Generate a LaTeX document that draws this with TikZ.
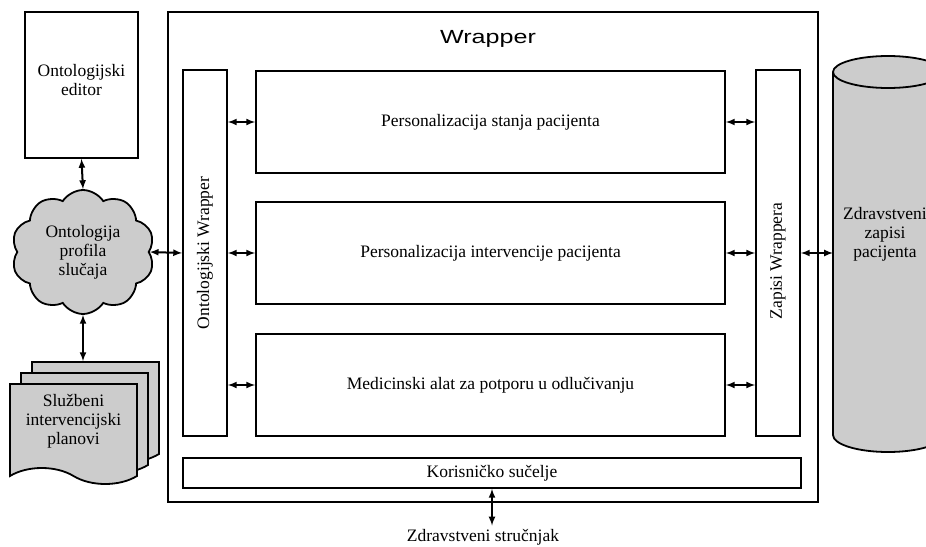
\documentclass[tikz,border=0pt]{standalone}
\usepackage{fontspec}
\usepackage{graphicx}
\setmainfont{Liberation Serif}
\newfontfamily\wrapfont{Liberation Sans}
\usepackage{tikz}
\usetikzlibrary{arrows}
\usetikzlibrary{calc}
\usetikzlibrary{shapes.symbols}
\definecolor{lgray}{RGB}{204,204,204}
\tikzset{t/.style={font=\fontsize{17.5}{19}\selectfont, align=center}}
\tikzset{box/.style={draw, line width=1.8pt, fill=white}}
\tikzset{arr/.style={<->, >=latex, line width=2pt}}
\tikzset{sheet/.style={draw, line width=1.8pt, fill=lgray, tape, tape bend top=none, tape bend bottom=out and in, tape bend height=16pt, minimum width=127, minimum height=100}}

\begin{document}
\begin{tikzpicture}[x=1pt,y=-1pt]
            \useasboundingbox (0,0) rectangle (926,546);
            \clip (0,0) rectangle (926,546);
            % database
            \node (db) [minimum width=110, minimum height=363, inner sep=0pt, outer sep=0pt] at (888,253.5) {};
            \filldraw[fill=lgray, line width=1.8pt] (db.south) ellipse [x radius=55, y radius=17];
            \fill[lgray] (db.north west) rectangle (db.south east);
            \draw[line width=1.8pt] (db.north west) -- (db.south west) (db.north east) -- (db.south east);
            \filldraw[fill=lgray, line width=1.8pt] (db.north) ellipse [x radius=55, y radius=16];
            \node (dbl) [t] at (885,234) {Zdravstveni\\zapisi\\pacijenta};
            % wrapper
            \node (wrapper) [box, minimum width=650, minimum height=490] at (493,257) {};
            \node (title) at (488,39) {\wrapfont\fontsize{19}{19}\selectfont\scalebox{1.32}[1]{Wrapper}};
            \node (ow) [box, minimum width=44, minimum height=366] at (205,253) {};
            \node (owl) [t, rotate=90] at (ow) {Ontologijski Wrapper};
            \node (zw) [box, minimum width=44, minimum height=366] at (778,253) {};
            \node (zwl) [t, rotate=90] at ($(zw)+(0,8)$) {Zapisi Wrappera};
            \node (p1) [box, t, minimum width=469, minimum height=102] at (490.5,122) {Personalizacija stanja pacijenta};
            \node (p2) [box, t, minimum width=469, minimum height=102] at (490.5,253) {Personalizacija intervencije pacijenta};
            \node (p3) [box, t, minimum width=469, minimum height=102] at (490.5,385) {Medicinski alat za potporu u odlučivanju};
            \node (ui) [box, t, minimum width=618, minimum height=30] at (492,473) {Korisničko sučelje};
            \node (expert) [t] at (483,537) {Zdravstveni stručnjak};
            % left side
            \node (editor) [box, minimum width=113, minimum height=146] at (81.5,85) {};
            \node (editorl) [t] at ($(editor)+(0,-5)$) {Ontologijski\\editor};
            \node (cloud) [t, draw, line width=1.8pt, fill=lgray, cloud, cloud puffs=10, cloud puff arc=115, aspect=1.1, minimum width=143, minimum height=124, inner sep=0pt] at (83,252) {Ontologija\\profila\\slučaja};
            \node (d3) [sheet] at (95.5,404) {};
            \node (d2) [sheet] at (84.5,415) {};
            \node (d1) [sheet] at (73.5,426) {};
            \node (d1l) [t] at ($(d1)+(0,-5)$) {Službeni\\intervencijski\\planovi};
            % connectors
            \draw[arr] (editor.south) -- (cloud.north);
            \draw[arr] (cloud.south) -- (cloud.south |- d3.north);
            \draw[arr] (cloud.east) -- (ow.west);
            \draw[arr] (p1.west -| ow.east) -- (p1.west);
            \draw[arr] (p2.west -| ow.east) -- (p2.west);
            \draw[arr] (p3.west -| ow.east) -- (p3.west);
            \draw[arr] (p1.east) -- (p1.east -| zw.west);
            \draw[arr] (p2.east) -- (p2.east -| zw.west);
            \draw[arr] (p3.east) -- (p3.east -| zw.west);
            \draw[arr] (zw.east) -- (zw.east -| db.west);
            \draw[arr] (ui.south) -- (ui.south |- expert.north);
          \end{tikzpicture}
\end{document}
